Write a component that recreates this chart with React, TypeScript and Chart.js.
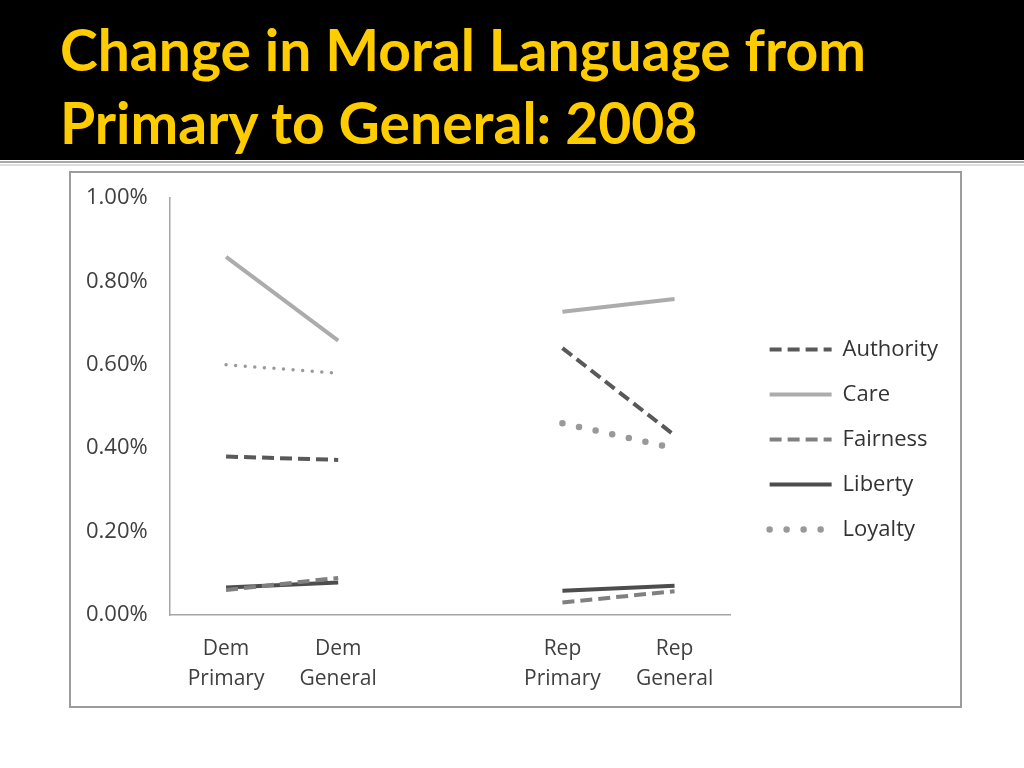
import React, { useEffect, useRef } from "react";
import { Chart, registerables } from "chart.js";

Chart.register(...registerables);

const categories: (string | string[])[] = [["Dem", "Primary"], ["Dem", "General"], "", ["Rep", "Primary"], ["Rep", "General"]];
const seriesNames = ["Authority", "Care", "Fairness", "Liberty", "Loyalty"];
const authority = [0.38, 0.372, null, 0.64, 0.431];
const care = [0.859, 0.658, null, 0.727, 0.758];
const fairness = [0.06, 0.089, null, 0.03, 0.057];
const liberty = [0.066, 0.078, null, 0.058, 0.07];
const loyalty = [0.6, 0.58, null, 0.46, 0.4];
const yTickValues = [0, 0.2, 0.4, 0.6, 0.8, 1.0];

const FONT = "'Open Sans', sans-serif";

function ChartBox() {
  const ref = useRef<HTMLCanvasElement | null>(null);
  useEffect(() => {
    if (!ref.current) return;
    const chart = new Chart(ref.current, {
      type: "line",
      data: {
        labels: categories,
        datasets: [
          { label: seriesNames[0], data: authority, borderColor: "#595959", backgroundColor: "#595959", borderWidth: 4, borderDash: [12, 6], borderCapStyle: "butt" },
          { label: seriesNames[1], data: care, borderColor: "#acacac", backgroundColor: "#acacac", borderWidth: 4, borderDash: [], borderCapStyle: "butt" },
          { label: seriesNames[2], data: fairness, borderColor: "#808080", backgroundColor: "#808080", borderWidth: 4, borderDash: [12, 6], borderCapStyle: "butt" },
          { label: seriesNames[3], data: liberty, borderColor: "#4d4d4d", backgroundColor: "#4d4d4d", borderWidth: 4, borderDash: [], borderCapStyle: "butt" },
          {
            label: seriesNames[4], data: loyalty, borderColor: "#999999", backgroundColor: "#999999", borderWidth: 6.5, borderDash: [0, 17], borderCapStyle: "round",
            segment: {
              borderWidth: (c: any) => (c.p0DataIndex < 2 ? 3.5 : undefined),
              borderDash: (c: any) => (c.p0DataIndex < 2 ? [0, 9.6] : undefined),
            },
          },
        ] as any,
      },
      options: {
        responsive: false,
        animation: false,
        events: [],
        spanGaps: false,
        elements: { point: { radius: 0, hoverRadius: 0 }, line: { tension: 0 } },
        layout: { padding: { top: 0, bottom: 0, left: 15, right: 12 } },
        plugins: {
          tooltip: { enabled: false },
          title: { display: false },
          legend: {
            display: true,
            position: "right",
            maxWidth: 300,
            labels: {
              usePointStyle: true,
              pointStyleWidth: 62,
              padding: 23,
              color: "#333333",
              font: { family: FONT, size: 22 },
              generateLabels: (ch: any) =>
                ch.data.datasets.map((ds: any, i: number) => ({
                  text: ds.label,
                  fillStyle: ds.borderColor,
                  strokeStyle: ds.borderColor,
                  lineWidth: ds.borderWidth,
                  lineDash: ds.borderDash,
                  lineCap: ds.borderCapStyle,
                  pointStyle: "line",
                  hidden: false,
                  datasetIndex: i,
                  fontColor: "#333333",
                })),
            },
          },
        },
        scales: {
          x: {
            type: "category",
            offset: true,
            grid: { display: false, drawTicks: false, offset: true },
            border: { display: true, color: "#a6a6a6", width: 1.5 },
            ticks: { color: "#404040", font: { family: FONT, size: 21, lineHeight: 30 / 21 }, padding: 19, maxRotation: 0, autoSkip: false },
            afterFit: (s: any) => { s.height = 91; },
          },
          topSpacer: {
            type: "category",
            position: "top",
            display: true,
            grid: { display: false, drawTicks: false },
            border: { display: false },
            ticks: { display: false },
            afterFit: (s: any) => { s.height = 25; },
          },
          y: {
            type: "linear",
            min: 0,
            max: 1,
            afterBuildTicks: (s: any) => { s.ticks = yTickValues.map((v) => ({ value: v })); },
            grid: { display: false, drawTicks: false },
            border: { display: true, color: "#a6a6a6", width: 1.5 },
            ticks: { color: "#404040", font: { family: FONT, size: 22 }, padding: 0, crossAlign: "far", callback: (v: any) => Number(v).toFixed(2) + "%" },
            afterFit: (s: any) => { s.width = 84; },
          },
          spacer: {
            type: "linear",
            position: "right",
            display: true,
            grid: { display: false, drawTicks: false },
            border: { display: false },
            ticks: { display: false },
            afterFit: (s: any) => { s.width = 16; },
          },
        },
      } as any,
    });
    return () => chart.destroy();
  }, []);
  return <canvas ref={ref} width={889} height={533} style={{ display: "block", width: 889, height: 533 }} />;
}

export default function App() {
  return (
    <div style={{ position: "absolute", left: 0, top: 0, width: 1024, height: 768, background: "#ffffff", overflow: "hidden" }}>
      <div style={{ position: "absolute", left: 0, top: 0, width: 1024, height: 160, background: "#000000" }} />
      <div style={{ position: "absolute", left: 0, top: 161, width: 1024, height: 2, background: "#a8a8a8" }} />
      <div style={{ position: "absolute", left: 0, top: 164, width: 1024, height: 2, background: "#dddddd" }} />
      <div
        style={{
          position: "absolute",
          left: 60,
          top: 13,
          color: "#ffcc00",
          fontFamily: "Lato, 'Open Sans', sans-serif",
          fontWeight: 700,
          fontSize: 57,
          lineHeight: "73px",
          whiteSpace: "nowrap",
        }}
      >
        <div>Change in Moral Language from</div>
        <div>Primary to General: 2008</div>
      </div>
      <div
        style={{
          position: "absolute",
          left: 69,
          top: 171,
          width: 893,
          height: 537,
          boxSizing: "border-box",
          border: "2px solid #9c9c9c",
          background: "#ffffff",
        }}
      >
        <ChartBox />
      </div>
    </div>
  );
}
